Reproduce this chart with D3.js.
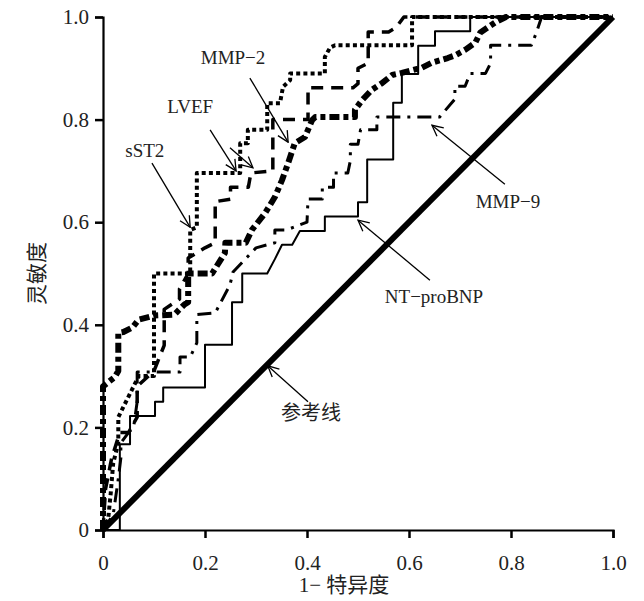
<!DOCTYPE html>
<html>
<head>
<meta charset="utf-8">
<script src="https://cdn.jsdelivr.net/npm/d3@7"></script>
<style>
  body { margin: 0; background: #fff; }
  svg { display: block; }
</style>
</head>
<body>
<svg id="chart" width="644" height="601"></svg>
<script>
// ROC curves, [1-specificity, sensitivity]
const sst2 = [[0,0],[0.01,0.02],[0.015,0.07],[0.02,0.13],[0.03,0.17],[0.03,0.22],[0.04,0.24],[0.06,0.28],[0.07,0.3],[0.1,0.3],[0.1,0.5],[0.171,0.5],[0.171,0.585],[0.184,0.59],[0.184,0.696],[0.269,0.696],[0.269,0.754],[0.284,0.754],[0.284,0.78],[0.322,0.78],[0.322,0.832],[0.347,0.832],[0.353,0.864],[0.367,0.877],[0.367,0.89],[0.435,0.89],[0.435,0.922],[0.445,0.94],[0.455,0.945],[0.606,0.945],[0.606,1],[1,1]];
const lvef = [[0,0],[0.005,0.08],[0.017,0.14],[0.033,0.19],[0.05,0.19],[0.067,0.22],[0.067,0.28],[0.1,0.31],[0.12,0.36],[0.12,0.43],[0.15,0.45],[0.15,0.47],[0.167,0.5],[0.167,0.53],[0.2,0.55],[0.22,0.56],[0.22,0.64],[0.25,0.645],[0.25,0.668],[0.285,0.668],[0.29,0.696],[0.333,0.7],[0.333,0.8],[0.402,0.8],[0.402,0.862],[0.49,0.862],[0.5,0.87],[0.5,0.9],[0.52,0.91],[0.52,0.971],[0.56,0.971],[0.575,0.98],[0.59,1],[1,1]];
const mmp2 = [[0,0],[0,0.28],[0.004,0.283],[0.023,0.298],[0.03,0.31],[0.03,0.384],[0.04,0.386],[0.058,0.395],[0.07,0.41],[0.1,0.418],[0.14,0.42],[0.16,0.44],[0.167,0.444],[0.167,0.5],[0.214,0.5],[0.239,0.54],[0.24,0.56],[0.28,0.56],[0.292,0.585],[0.318,0.618],[0.337,0.649],[0.351,0.682],[0.363,0.715],[0.376,0.754],[0.396,0.766],[0.41,0.799],[0.416,0.805],[0.494,0.805],[0.494,0.819],[0.508,0.838],[0.527,0.858],[0.547,0.871],[0.567,0.887],[0.586,0.891],[0.625,0.901],[0.645,0.911],[0.676,0.92],[0.69,0.925],[0.71,0.936],[0.73,0.95],[0.74,0.97],[0.77,0.99],[0.79,1],[1,1]];
const mmp9 = [[0,0],[0.02,0.03],[0.03,0.1],[0.035,0.14],[0.035,0.17],[0.05,0.19],[0.06,0.2],[0.067,0.25],[0.067,0.308],[0.12,0.308],[0.151,0.308],[0.151,0.337],[0.171,0.337],[0.184,0.365],[0.184,0.42],[0.22,0.423],[0.249,0.478],[0.255,0.503],[0.3,0.55],[0.337,0.56],[0.337,0.585],[0.36,0.585],[0.4,0.6],[0.402,0.645],[0.43,0.645],[0.43,0.668],[0.452,0.668],[0.452,0.696],[0.48,0.696],[0.485,0.72],[0.485,0.752],[0.5,0.752],[0.505,0.78],[0.537,0.78],[0.537,0.805],[0.66,0.805],[0.69,0.84],[0.69,0.865],[0.71,0.865],[0.72,0.89],[0.75,0.89],[0.76,0.91],[0.76,0.945],[0.84,0.945],[0.85,0.97],[0.86,1],[1,1]];
const ntprobnp = [[0,0],[0.033,0],[0.033,0.167],[0.053,0.167],[0.053,0.222],[0.102,0.222],[0.102,0.25],[0.118,0.25],[0.118,0.278],[0.2,0.278],[0.2,0.361],[0.253,0.361],[0.253,0.444],[0.273,0.444],[0.273,0.5],[0.322,0.5],[0.337,0.528],[0.351,0.556],[0.371,0.556],[0.386,0.583],[0.435,0.583],[0.435,0.611],[0.5,0.611],[0.5,0.639],[0.518,0.639],[0.518,0.722],[0.569,0.722],[0.569,0.833],[0.586,0.833],[0.586,0.889],[0.618,0.889],[0.618,0.944],[0.651,0.944],[0.651,0.972],[0.72,0.972],[0.72,1],[1,1]];
const reference = [[0,0],[1,1]];

const ticks = [0, 0.2, 0.4, 0.6, 0.8, 1.0];
const tickLabels = ["0", "0.2", "0.4", "0.6", "0.8", "1.0"];

// annotations: label position, arrow from -> to (data units)
const labels = [
  { text: "MMP\u22122", at: [0.255, 0.922], from: [0.288, 0.881], to: [0.363, 0.756] },
  { text: "LVEF", at: [0.171, 0.825], from: [0.21, 0.78], to: [0.261, 0.7] },
  { text: "", at: [0, 0], from: [0.249, 0.745], to: [0.294, 0.706] },
  { text: "sST2", at: [0.082, 0.74], from: [0.096, 0.715], to: [0.171, 0.59] },
  { text: "MMP\u22129", at: [0.794, 0.64], from: [0.788, 0.674], to: [0.645, 0.789] },
  { text: "NT\u2212proBNP", at: [0.649, 0.456], from: [0.641, 0.487], to: [0.5, 0.604] },
  { text: "参考线", at: [0.408, 0.228], from: [0.402, 0.25], to: [0.323, 0.32] }
];

const svg = d3.select("#chart");
const margin = { top: 17, right: 31, bottom: 71, left: 103 };
const width = 644, height = 601;
const serif = "'Liberation Serif', 'Noto Sans CJK SC', serif";

const x = d3.scaleLinear().domain([0, 1]).range([margin.left, width - margin.right]);
const y = d3.scaleLinear().domain([0, 1]).range([height - margin.bottom, margin.top]);

const line = d3.line().x(d => x(d[0])).y(d => y(d[1]));

// curves
const curves = [
  { data: reference, w: 6, dash: null },
  { data: ntprobnp, w: 2, dash: null },
  { data: mmp9, w: 3, dash: "14,7,3,7" },
  { data: lvef, w: 3.5, dash: "12,8" },
  { data: sst2, w: 4, dash: "4,3.2" },
  { data: mmp2, w: 6, dash: "10,4,5,4" }
];

svg.append("g")
  .selectAll("path")
  .data(curves)
  .join("path")
  .attr("d", d => line(d.data))
  .attr("fill", "none")
  .attr("stroke", "#000")
  .attr("stroke-width", d => d.w)
  .attr("stroke-dasharray", d => d.dash)
  .attr("stroke-linejoin", "round");

// axes
const xAxis = svg.append("g")
  .attr("transform", `translate(0,${y(0)})`)
  .call(d3.axisBottom(x).tickValues(ticks).tickFormat((d, i) => tickLabels[i]).tickSize(8).tickPadding(17));
const yAxis = svg.append("g")
  .attr("transform", `translate(${x(0)},0)`)
  .call(d3.axisLeft(y).tickValues(ticks).tickFormat((d, i) => tickLabels[i]).tickSize(8).tickPadding(6));

[xAxis, yAxis].forEach(g => {
  g.select(".domain").attr("stroke-width", 2.2);
  g.selectAll(".tick line").attr("stroke-width", 2.5);
  g.selectAll("text")
    .style("font-family", serif)
    .style("font-size", "21px")
    .attr("fill", "#222");
});

// axis titles
svg.append("text")
  .attr("x", (x(0) + x(1)) / 2 - 14)
  .attr("y", 592)
  .attr("text-anchor", "middle")
  .style("font-family", serif)
  .style("font-size", "21px")
  .attr("fill", "#222")
  .text("1\u2212 特异度");

svg.append("text")
  .attr("transform", `translate(44,${(y(0) + y(1)) / 2}) rotate(-90)`)
  .attr("text-anchor", "middle")
  .style("font-family", serif)
  .style("font-size", "21px")
  .attr("fill", "#222")
  .text("灵敏度");

// arrow marker
svg.append("defs").append("marker")
  .attr("id", "arrow")
  .attr("viewBox", "0 0 12 12")
  .attr("refX", 11)
  .attr("refY", 6)
  .attr("markerWidth", 13)
  .attr("markerHeight", 13)
  .attr("markerUnits", "userSpaceOnUse")
  .attr("orient", "auto")
  .append("path")
  .attr("d", "M1,1 L11,6 L1,11")
  .attr("fill", "none")
  .attr("stroke", "#000")
  .attr("stroke-width", 1.2);

const ann = svg.append("g");
ann.selectAll("line")
  .data(labels)
  .join("line")
  .attr("x1", d => x(d.from[0]))
  .attr("y1", d => y(d.from[1]))
  .attr("x2", d => x(d.to[0]))
  .attr("y2", d => y(d.to[1]))
  .attr("stroke", "#000")
  .attr("stroke-width", 1.3)
  .attr("marker-end", "url(#arrow)");

ann.selectAll("text")
  .data(labels.filter(d => d.text))
  .join("text")
  .attr("x", d => x(d.at[0]))
  .attr("y", d => y(d.at[1]))
  .attr("dy", "0.35em")
  .attr("text-anchor", "middle")
  .style("font-family", serif)
  .style("font-size", d => /[\u4e00-\u9fff]/.test(d.text) ? "20px" : "19px")
  .attr("fill", "#222")
  .text(d => d.text);
</script>
</body>
</html>
